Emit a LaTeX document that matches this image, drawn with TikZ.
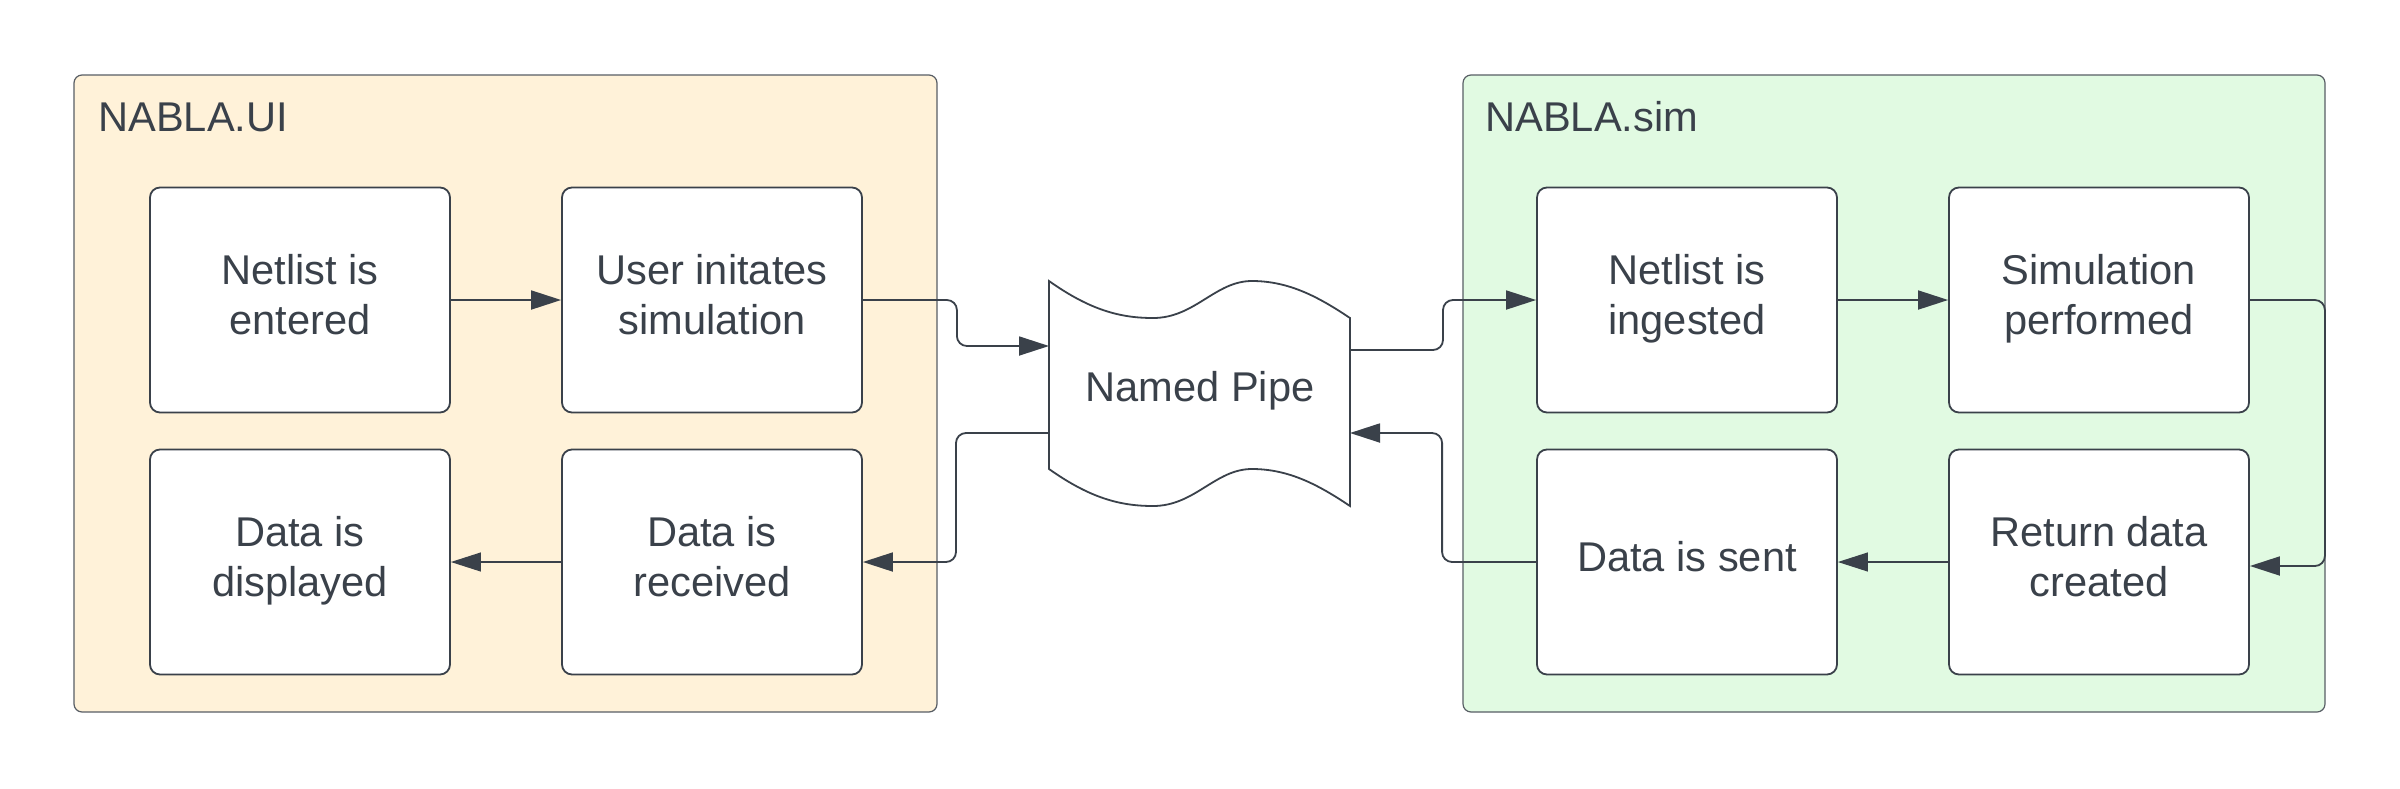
\documentclass[tikz,border=0pt]{standalone}
\usepackage{fontspec}
\setmainfont{Liberation Sans}
\usetikzlibrary{arrows.meta}
\definecolor{ink}{HTML}{3A414A}
\definecolor{uifill}{HTML}{FFF2D9}
\definecolor{simfill}{HTML}{E1FAE2}
\begin{document}
\begin{tikzpicture}[x=0.5pt,y=-0.5pt,
  container/.style={draw=ink!85, line width=0.6pt, rounded corners=4pt},
  stepbox/.style={draw=ink, line width=0.9pt, fill=white, rounded corners=5pt,
    minimum width=150pt, minimum height=112.5pt, align=center,
    font=\fontsize{20.8}{25}\selectfont, text=ink, inner sep=0pt, text depth=6pt},
  titletext/.style={anchor=base west, font=\fontsize{20.8}{25}\selectfont, text=ink, inner sep=0pt},
  flow/.style={draw=ink, line width=0.9pt, rounded corners=5pt, -{Triangle[length=15pt,width=9.5pt]}},
  thinflow/.style={draw=ink, line width=0.55pt, -{Triangle[length=15pt,width=9.5pt]}},
  pipeshape/.style={draw=ink, line width=0.9pt, fill=white}]
\useasboundingbox (0,0) rectangle (2400,788);
\fill[white] (0,0) rectangle (2400,788);

% containers
\draw[container, fill=uifill] (74,75) rectangle (937,712);
\draw[container, fill=simfill] (1463,75) rectangle (2325,712);
\node[titletext] (uititle) at (98,131) {NABLA.UI};
\node[titletext] (simtitle) at (1485,131) {NABLA.sim};

% step boxes
\node[stepbox] (ne) at (300,300) {Netlist is\\entered};
\node[stepbox] (ui) at (712,300) {User initates\\simulation};
\node[stepbox] (dd) at (300,562) {Data is\\displayed};
\node[stepbox] (dr) at (712,562) {Data is\\received};
\node[stepbox] (ni) at (1687,300) {Netlist is\\ingested};
\node[stepbox] (sp) at (2099,300) {Simulation\\performed};
\node[stepbox] (ds) at (1687,562) {Data is sent};
\node[stepbox] (rd) at (2099,562) {Return data\\created};

% named pipe (tape shape)
\draw[pipeshape] (1049,281) .. controls (1090,310) and (1120,318) .. (1153,318)
  .. controls (1195,318) and (1215,281) .. (1252,281)
  .. controls (1290,281) and (1320,298) .. (1350,318)
  -- (1350,506)
  .. controls (1320,486) and (1290,469) .. (1252,469)
  .. controls (1215,469) and (1195,506) .. (1153,506)
  .. controls (1120,506) and (1090,498) .. (1049,469) -- cycle;
\node[font=\fontsize{20.8}{25}\selectfont, text=ink] (pipe) at (1200,391) {Named Pipe};
\coordinate (pinL) at (1049,346);
\coordinate (poutL) at (1049,433);
\coordinate (poutR) at (1350,350);
\coordinate (pinR) at (1350,433);

% connectors
\draw[flow] (ne.east) -- (ui.west);
\draw[flow] (ni.east) -- (sp.west);
\draw[thinflow] (dr.west) -- (dd.east);
\draw[thinflow] (rd.west) -- (ds.east);
\draw[flow] (ui.east) -- ++(94,0) |- (pinL);
\draw[flow] (poutL) -- ++(-93,0) |- (dr.east);
\draw[flow] (poutR) -- ++(93,0) |- (ni.west);
\draw[flow] (ds.west) -- ++(-94,0) |- (pinR);
\draw[flow] (sp.east) -- ++(75,0) |- ([yshift=-2pt]rd.east);
\end{tikzpicture}
\end{document}
